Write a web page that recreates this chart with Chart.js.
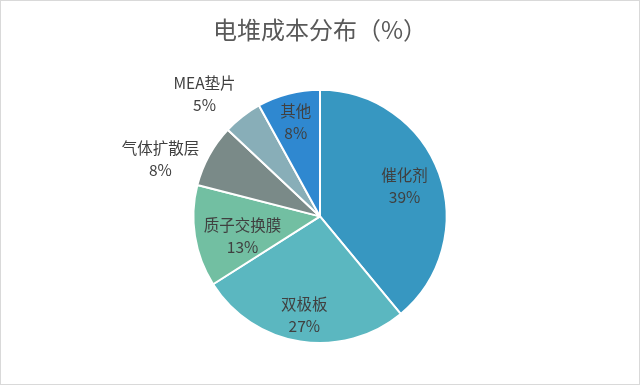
<!DOCTYPE html>
<html>
<head>
<meta charset="utf-8">
<script src="https://cdn.jsdelivr.net/npm/chart.js@4"></script>
<style>
  html, body { margin: 0; padding: 0; background: #fff; }
  #wrap { width: 640px; height: 385px; box-sizing: border-box; border: 1px solid #d9d9d9; }
  #pieChart { display: block; }
</style>
</head>
<body>
<div id="wrap"><canvas id="pieChart" width="638" height="383"></canvas></div>
<script>
// chart data
const labels = ["催化剂", "双极板", "质子交换膜", "气体扩散层", "MEA垫片", "其他"];
const shares = [39, 27, 13, 8, 5, 8];
const colors = ["#3797c1", "#5bb7c0", "#72bfa2", "#7a8a88", "#88aeb8", "#2f88d0"];
// label placement: fraction of the radius, and a small turn (degrees) off the slice middle
const labelRadius = [0.71, 0.79, 0.63, 1.34, 1.33, 0.77];
const labelTurn = [0, 0, -5, -9, -5.5, 0];

const fontFamily = "'Noto Sans CJK SC', 'Microsoft YaHei', sans-serif";

// draws "name / xx%" labels on or beside each slice
const sliceLabels = {
  id: "sliceLabels",
  afterDatasetsDraw(chart) {
    const ctx = chart.ctx;
    const meta = chart.getDatasetMeta(0);
    ctx.save();
    ctx.font = "15.5px " + fontFamily;
    ctx.fillStyle = "#404040";
    ctx.textAlign = "center";
    ctx.textBaseline = "middle";
    meta.data.forEach((arc, i) => {
      const p = arc.getProps(["x", "y", "startAngle", "endAngle", "outerRadius"], true);
      const mid = (p.startAngle + p.endAngle) / 2 + labelTurn[i] * Math.PI / 180;
      const r = p.outerRadius * labelRadius[i];
      const x = p.x + Math.cos(mid) * r;
      const y = p.y + Math.sin(mid) * r;
      ctx.fillText(labels[i], x, y - 11);
      ctx.fillText(shares[i] + "%", x, y + 11);
    });
    ctx.restore();
  }
};

new Chart(document.getElementById("pieChart"), {
  type: "pie",
  data: {
    labels: labels,
    datasets: [{
      data: shares,
      backgroundColor: colors,
      borderColor: "#ffffff",
      borderWidth: 2
    }]
  },
  options: {
    responsive: false,
    animation: false,
    layout: { padding: { top: 0, bottom: 40 } },
    plugins: {
      legend: { display: false },
      tooltip: { enabled: false },
      title: {
        display: true,
        text: "电堆成本分布（%）",
        color: "#595959",
        font: { family: fontFamily, size: 24, weight: "normal" },
        padding: { top: 14, bottom: 45 }
      }
    }
  },
  plugins: [sliceLabels]
});
</script>
</body>
</html>
